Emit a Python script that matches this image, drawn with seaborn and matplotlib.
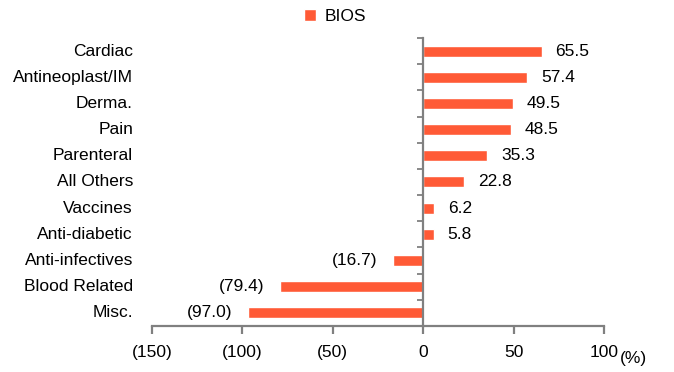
import matplotlib
matplotlib.use("Agg")
import matplotlib.pyplot as plt
import matplotlib.transforms as mtransforms
import seaborn as sns
import pandas as pd

categories = ['Cardiac', 'Antineoplast/IM', 'Derma.', 'Pain', 'Parenteral', 'All Others',
              'Vaccines', 'Anti-diabetic', 'Anti-infectives', 'Blood Related', 'Misc.']
bios = [65.5, 57.4, 49.5, 48.5, 35.3, 22.8, 6.2, 5.8, -16.7, -79.4, -97.0]
x_ticks = [-150, -100, -50, 0, 50, 100]
x_tick_labels = ['(150)', '(100)', '(50)', '0', '50', '100']

BAR_COLOR = '#FF5A36'
AXIS_COLOR = '#808080'
FS = 12.5


def fmt(v):
    return f'({abs(v):.1f})' if v < 0 else f'{v:.1f}'


def main():
    sns.set_style('white')
    plt.rcParams['font.family'] = ['Liberation Sans', 'DejaVu Sans']
    plt.rcParams['font.size'] = FS
    plt.rcParams['text.color'] = 'black'
    plt.rcParams['xtick.color'] = 'black'
    plt.rcParams['ytick.color'] = 'black'

    df = pd.DataFrame({'category': categories, 'value': bios})

    fig = plt.figure(figsize=(6.74, 3.72), dpi=100)
    ax = fig.add_axes([0.2255, 0.1237, 0.6706, 0.7742])

    sns.barplot(data=df, x='value', y='category', color=BAR_COLOR, width=0.42,
                saturation=1, label='BIOS', ax=ax, orient='h')

    ax.set_xlim(-150, 100)
    ax.set_ylim(len(categories) - 0.5, -0.5)
    ax.set_xticks(x_ticks)
    ax.set_xticklabels(x_tick_labels)
    ax.set_xlabel('')
    ax.set_ylabel('')

    # vertical spine at zero, category boundaries as ticks
    for s in ['top', 'right']:
        ax.spines[s].set_visible(False)
    ax.spines['left'].set_position(('data', 0))
    for s in ['left', 'bottom']:
        ax.spines[s].set_color(AXIS_COLOR)
        ax.spines[s].set_linewidth(1.6)
    ax.set_yticks([i - 0.5 for i in range(len(categories) + 1)])
    ax.set_yticklabels([])
    ax.tick_params(axis='y', left=True, length=4, width=1.3, color=AXIS_COLOR, direction='out')
    ax.tick_params(axis='x', bottom=True, length=6, width=1.6, color=AXIS_COLOR, direction='out',
                   pad=8, labelsize=FS, labelcolor='black')

    # category names to the left of the plot area
    trans = mtransforms.blended_transform_factory(ax.transAxes, ax.transData)
    for i, cat in enumerate(categories):
        ax.text(-0.042, i, cat, transform=trans, ha='right', va='center', fontsize=FS)

    for i, v in enumerate(bios):
        if v >= 0:
            ax.annotate(fmt(v), (v, i), xytext=(10, 0), textcoords='offset points',
                        ha='left', va='center', fontsize=FS)
        else:
            ax.annotate(fmt(v), (v, i), xytext=(-11, 0), textcoords='offset points',
                        ha='right', va='center', fontsize=FS)

    fig.text(0.94, 0.035, '(%)', ha='center', va='center', fontsize=FS)

    ax.legend(loc='center', bbox_to_anchor=(0.497, 0.955), bbox_transform=fig.transFigure,
              frameon=False, handlelength=0.65, handleheight=0.65, handletextpad=0.5,
              fontsize=FS, labelcolor='black')

    fig.savefig('out.png', dpi=100)


if __name__ == '__main__':
    main()
